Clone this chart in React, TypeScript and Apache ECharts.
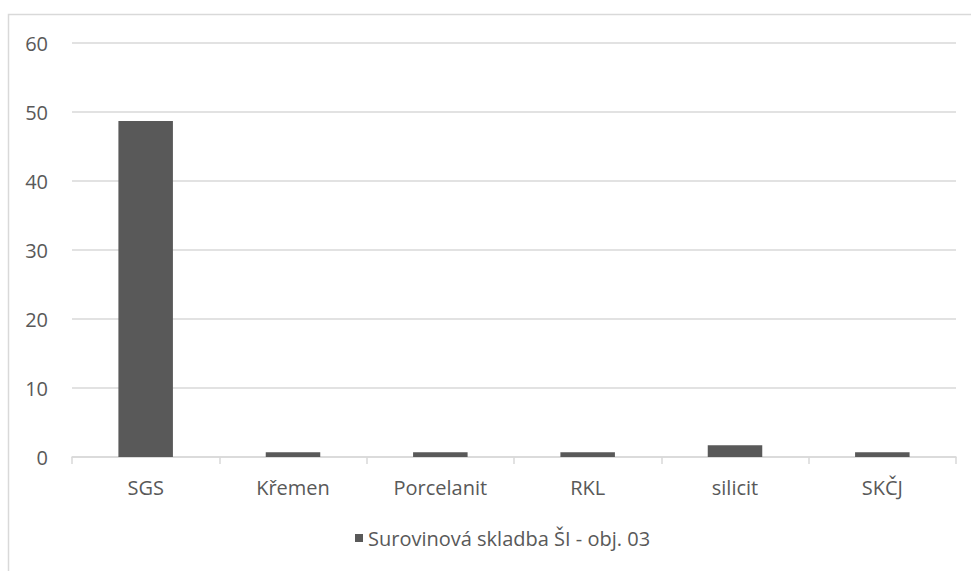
import React, { useEffect, useRef } from "react";
import * as echarts from "echarts";

const categories = ["SGS", "Křemen", "Porcelanit", "RKL", "silicit", "SKČJ"];
const values = [48.7, 0.7, 0.7, 0.7, 1.7, 0.7];
const seriesName = "Surovinová skladba ŠI - obj. 03";

export default function App() {
  const ref = useRef<HTMLDivElement>(null);
  useEffect(() => {
    if (!ref.current) return;
    const chart = echarts.init(ref.current, undefined, { renderer: "svg" });
    const font = "'Open Sans', 'DejaVu Sans', sans-serif";
    chart.setOption({
      animation: false,
      backgroundColor: "#ffffff",
      textStyle: { fontFamily: font },
      graphic: [
        {
          type: "rect",
          shape: { x: 8.5, y: 14.5, width: 1100, height: 1100 },
          style: { fill: "none", stroke: "#d9d9d9", lineWidth: 1.5 },
          silent: true,
        },
      ],
      grid: { left: 72, right: 15, top: 43, bottom: 114, containLabel: false },
      legend: {
        bottom: 18,
        left: 350,
        itemWidth: 8,
        itemHeight: 8,
        itemGap: 8,
        icon: "rect",
        textStyle: { color: "#595959", fontSize: 20, fontFamily: font, padding: [0, 0, 0, 0] },
        data: [seriesName],
      },
      xAxis: {
        type: "category",
        data: categories,
        axisLine: { lineStyle: { color: "#d9d9d9", width: 1.5 } },
        axisTick: { show: true, length: 7, lineStyle: { color: "#d9d9d9", width: 1.5 } },
        axisLabel: { color: "#595959", fontSize: 20, margin: 20, fontFamily: font },
      },
      yAxis: {
        type: "value",
        min: 0,
        max: 60,
        interval: 10,
        axisLine: { show: false },
        axisTick: { show: false },
        axisLabel: { color: "#595959", fontSize: 20, margin: 24, fontFamily: font },
        splitLine: { lineStyle: { color: "#d9d9d9", width: 1.5 } },
      },
      series: [
        {
          name: seriesName,
          type: "bar",
          data: values,
          barWidth: "37%",
          itemStyle: { color: "#595959" },
        },
      ],
    });
    return () => chart.dispose();
  }, []);
  return (
    <div
      ref={ref}
      style={{ position: "absolute", left: 0, top: 0, width: 971, height: 571 }}
    />
  );
}
